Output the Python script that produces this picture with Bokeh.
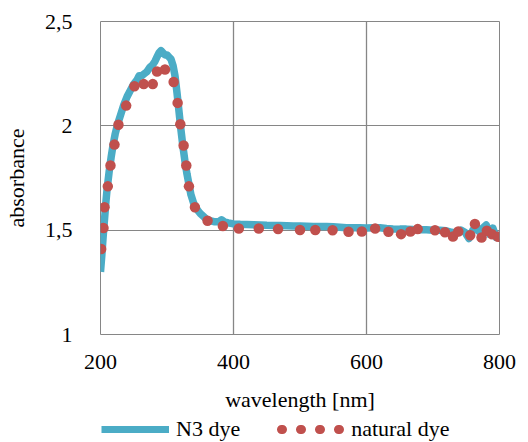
from bokeh.plotting import figure
from bokeh.layouts import column
from bokeh.models import Range1d, Legend, LegendItem, CustomJSTickFormatter, FixedTicker
from bokeh.embed import file_html
from bokeh.resources import INLINE

# N3 dye absorbance spectrum
n3_wavelength = [200, 202, 204, 206, 208, 210, 213, 216, 219, 222, 226, 230, 235, 240, 245,
                 250, 255, 258, 262, 266, 270, 274, 278, 282, 285, 288, 291, 294, 297, 300,
                 303, 306, 309, 312, 315, 318, 321, 324, 327, 330, 333, 336, 340, 345, 350,
                 355, 360, 366, 372, 378, 382, 386, 392, 400, 410, 420, 430, 440, 450, 460,
                 470, 480, 490, 500, 510, 520, 530, 540, 550, 560, 570, 580, 590, 600, 610,
                 620, 630, 640, 650, 660, 670, 680, 690, 700, 710, 720, 728, 735, 742, 748,
                 754, 760, 765, 770, 775, 780, 785, 790, 795, 800]
n3_absorbance = [1.30, 1.38, 1.47, 1.55, 1.63, 1.70, 1.78, 1.85, 1.91, 1.96, 2.01, 2.05, 2.10, 2.14, 2.17,
                 2.20, 2.22, 2.24, 2.24, 2.25, 2.26, 2.28, 2.29, 2.31, 2.33, 2.35, 2.36, 2.35, 2.34, 2.34,
                 2.33, 2.32, 2.29, 2.24, 2.16, 2.07, 1.98, 1.90, 1.83, 1.77, 1.72, 1.67, 1.63, 1.60, 1.58,
                 1.565, 1.55, 1.545, 1.54, 1.54, 1.55, 1.54, 1.535, 1.53, 1.528, 1.527, 1.526, 1.525, 1.523, 1.522,
                 1.522, 1.521, 1.52, 1.52, 1.519, 1.518, 1.518, 1.517, 1.516, 1.514, 1.512, 1.512, 1.511, 1.51, 1.512,
                 1.512, 1.508, 1.506, 1.505, 1.505, 1.503, 1.502, 1.502, 1.50, 1.50, 1.497, 1.49, 1.485, 1.50, 1.49,
                 1.46, 1.50, 1.52, 1.49, 1.51, 1.525, 1.48, 1.51, 1.465, 1.49]

# natural dye absorbance (dots)
nat_wavelength = [201, 204.5, 206, 211, 215, 221, 227, 238.6, 251, 265, 278.6, 285, 297, 310, 316,
                  320, 325, 329, 333, 342, 361, 384, 408, 438, 467, 500, 523, 549, 573, 593,
                  613, 633, 652, 666, 677, 703, 718, 730, 738, 756, 763, 773, 781, 789, 798]
nat_absorbance = [1.41, 1.51, 1.61, 1.71, 1.81, 1.91, 2.005, 2.097, 2.19, 2.20, 2.20, 2.26, 2.27, 2.21, 2.11,
                  2.008, 1.906, 1.81, 1.71, 1.61, 1.545, 1.52, 1.508, 1.508, 1.505, 1.501, 1.501, 1.50, 1.492, 1.494,
                  1.508, 1.492, 1.481, 1.494, 1.505, 1.50, 1.49, 1.47, 1.494, 1.476, 1.53, 1.465, 1.497, 1.48, 1.468]

x_ticks = [200, 400, 600, 800]
y_ticks = [1, 1.5, 2, 2.5]
series_names = ["N3 dye", "natural dye"]

BLUE = "#4BACC6"
RED = "#C0504D"
GRID = "#868686"
FONT = "Liberation Serif"

p = figure(width=528, height=414, x_range=Range1d(200, 800), y_range=Range1d(1, 2.5),
           output_backend="svg", toolbar_location=None,
           min_border_left=100, min_border_right=29, min_border_top=21, min_border_bottom=78)

p.outline_line_color = GRID
p.outline_line_width = 1
p.background_fill_color = "white"
p.border_fill_color = "white"

p.xaxis.ticker = FixedTicker(ticks=x_ticks)
p.yaxis.ticker = FixedTicker(ticks=y_ticks)
p.yaxis.formatter = CustomJSTickFormatter(code="return tick.toString().replace('.', ',')")

p.axis.axis_line_color = None
p.axis.major_tick_line_color = None
p.axis.minor_tick_line_color = None
p.axis.major_label_text_font = FONT
p.axis.major_label_text_font_size = "22px"
p.axis.major_label_text_color = "black"
p.axis.axis_label_text_font = FONT
p.axis.axis_label_text_font_size = "22px"
p.axis.axis_label_text_font_style = "normal"
p.axis.axis_label_text_color = "black"

p.xaxis.axis_label = "wavelength [nm]"
p.yaxis.axis_label = "absorbance"
p.xaxis.major_label_standoff = 14
p.xaxis.axis_label_standoff = 15
p.yaxis.major_label_standoff = 22
p.yaxis.axis_label_standoff = 13

p.xgrid.ticker = FixedTicker(ticks=x_ticks)
p.ygrid.ticker = FixedTicker(ticks=y_ticks)
p.xgrid.grid_line_color = GRID
p.xgrid.grid_line_width = 1.3
p.ygrid.grid_line_color = GRID
p.ygrid.grid_line_width = 1

p.line(n3_wavelength, n3_absorbance, line_color=BLUE, line_width=7.5, line_join="round")
p.scatter(nat_wavelength, nat_absorbance, size=10.5, fill_color=RED, line_color=None)

# legend strip below the chart (its own small figure, no axes)
lp = figure(width=528, height=28, x_range=Range1d(0, 1), y_range=Range1d(0, 1),
            output_backend="svg", toolbar_location=None,
            x_axis_location=None, y_axis_location=None,
            min_border=0, min_border_left=0, min_border_right=0, min_border_top=0, min_border_bottom=0)
lp.outline_line_color = None
lp.grid.visible = False
lp.background_fill_color = "white"
lp.border_fill_color = "white"

# key renderers carry the series data; the strip's ranges keep them out of view
n3_key = lp.line(n3_wavelength, n3_absorbance, line_color=BLUE, line_width=7)
nat_key = lp.line(nat_wavelength, nat_absorbance, line_color=RED, line_width=9,
                  line_dash="1 18", line_dash_offset=14, line_cap="round")

legend = Legend(
    items=[LegendItem(label=series_names[0], renderers=[n3_key]),
           LegendItem(label=series_names[1], renderers=[nat_key])],
    orientation="horizontal", location=(1, 0),
    glyph_width=68, glyph_height=20, label_standoff=7, spacing=36,
    padding=1, margin=0, border_line_color=None, background_fill_alpha=0,
    label_text_font=FONT, label_text_font_size="22px", label_text_color="black",
)
lp.add_layout(legend)

open("out.html", "w").write(file_html(column(p, lp, spacing=0), INLINE))
